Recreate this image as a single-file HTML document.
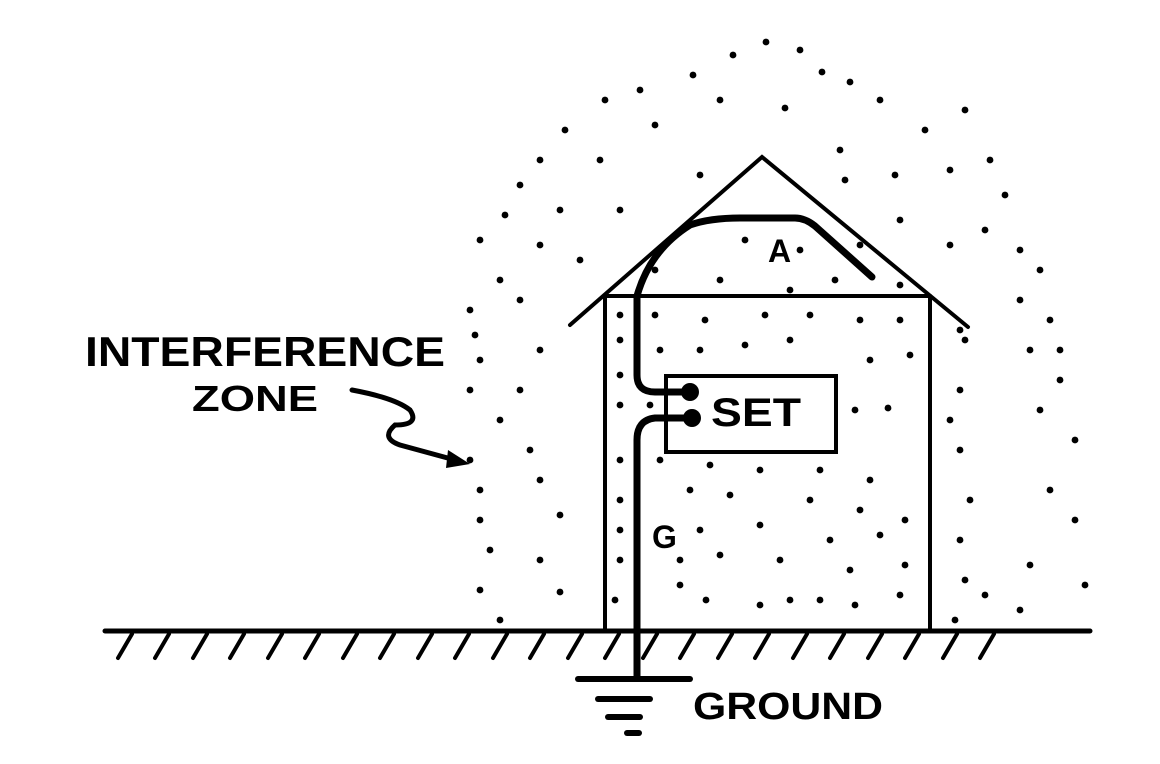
<!DOCTYPE html>
<html><head><meta charset="utf-8"><style>html,body{margin:0;padding:0;background:#fff}svg{display:block}</style></head>
<body>
<svg width="1160" height="764" viewBox="0 0 1160 764" xmlns="http://www.w3.org/2000/svg">
<defs><circle id="d" r="3.4" fill="#000"/></defs>
<g>
<use href="#d" x="766" y="42"/><use href="#d" x="733" y="55"/><use href="#d" x="800" y="50"/><use href="#d" x="693" y="75"/><use href="#d" x="822" y="72"/><use href="#d" x="850" y="82"/><use href="#d" x="640" y="90"/><use href="#d" x="880" y="100"/><use href="#d" x="605" y="100"/><use href="#d" x="720" y="100"/><use href="#d" x="785" y="108"/><use href="#d" x="565" y="130"/><use href="#d" x="655" y="125"/><use href="#d" x="925" y="130"/><use href="#d" x="540" y="160"/><use href="#d" x="600" y="160"/><use href="#d" x="840" y="150"/><use href="#d" x="965" y="110"/><use href="#d" x="520" y="185"/><use href="#d" x="700" y="175"/><use href="#d" x="845" y="180"/><use href="#d" x="895" y="175"/><use href="#d" x="950" y="170"/><use href="#d" x="990" y="160"/><use href="#d" x="505" y="215"/><use href="#d" x="560" y="210"/><use href="#d" x="620" y="210"/><use href="#d" x="900" y="220"/><use href="#d" x="985" y="230"/><use href="#d" x="1005" y="195"/><use href="#d" x="480" y="240"/><use href="#d" x="540" y="245"/><use href="#d" x="745" y="240"/><use href="#d" x="800" y="250"/><use href="#d" x="860" y="245"/><use href="#d" x="950" y="245"/><use href="#d" x="1020" y="250"/><use href="#d" x="500" y="280"/><use href="#d" x="580" y="260"/><use href="#d" x="655" y="270"/><use href="#d" x="720" y="280"/><use href="#d" x="790" y="290"/><use href="#d" x="835" y="280"/><use href="#d" x="900" y="285"/><use href="#d" x="1040" y="270"/><use href="#d" x="1020" y="300"/><use href="#d" x="470" y="310"/><use href="#d" x="520" y="300"/><use href="#d" x="475" y="335"/><use href="#d" x="620" y="315"/><use href="#d" x="655" y="315"/><use href="#d" x="705" y="320"/><use href="#d" x="765" y="315"/><use href="#d" x="810" y="315"/><use href="#d" x="860" y="320"/><use href="#d" x="900" y="320"/><use href="#d" x="960" y="330"/><use href="#d" x="1050" y="320"/><use href="#d" x="1030" y="350"/><use href="#d" x="480" y="360"/><use href="#d" x="540" y="350"/><use href="#d" x="620" y="340"/><use href="#d" x="660" y="350"/><use href="#d" x="700" y="350"/><use href="#d" x="745" y="345"/><use href="#d" x="790" y="340"/><use href="#d" x="870" y="360"/><use href="#d" x="910" y="355"/><use href="#d" x="965" y="340"/><use href="#d" x="1060" y="350"/><use href="#d" x="470" y="390"/><use href="#d" x="520" y="390"/><use href="#d" x="620" y="375"/><use href="#d" x="855" y="410"/><use href="#d" x="888" y="408"/><use href="#d" x="960" y="390"/><use href="#d" x="1060" y="380"/><use href="#d" x="500" y="420"/><use href="#d" x="620" y="405"/><use href="#d" x="650" y="405"/><use href="#d" x="950" y="420"/><use href="#d" x="1040" y="410"/><use href="#d" x="470" y="460"/><use href="#d" x="530" y="450"/><use href="#d" x="620" y="460"/><use href="#d" x="660" y="460"/><use href="#d" x="710" y="465"/><use href="#d" x="760" y="470"/><use href="#d" x="820" y="470"/><use href="#d" x="870" y="480"/><use href="#d" x="960" y="450"/><use href="#d" x="1075" y="440"/><use href="#d" x="480" y="490"/><use href="#d" x="540" y="480"/><use href="#d" x="620" y="500"/><use href="#d" x="690" y="490"/><use href="#d" x="730" y="495"/><use href="#d" x="810" y="500"/><use href="#d" x="860" y="510"/><use href="#d" x="905" y="520"/><use href="#d" x="970" y="500"/><use href="#d" x="1050" y="490"/><use href="#d" x="480" y="520"/><use href="#d" x="560" y="515"/><use href="#d" x="620" y="530"/><use href="#d" x="700" y="530"/><use href="#d" x="760" y="525"/><use href="#d" x="830" y="540"/><use href="#d" x="880" y="535"/><use href="#d" x="960" y="540"/><use href="#d" x="1075" y="520"/><use href="#d" x="490" y="550"/><use href="#d" x="540" y="560"/><use href="#d" x="620" y="560"/><use href="#d" x="680" y="560"/><use href="#d" x="720" y="555"/><use href="#d" x="780" y="560"/><use href="#d" x="850" y="570"/><use href="#d" x="905" y="565"/><use href="#d" x="965" y="580"/><use href="#d" x="1030" y="565"/><use href="#d" x="480" y="590"/><use href="#d" x="560" y="592"/><use href="#d" x="615" y="600"/><use href="#d" x="680" y="585"/><use href="#d" x="706" y="600"/><use href="#d" x="760" y="605"/><use href="#d" x="790" y="600"/><use href="#d" x="820" y="600"/><use href="#d" x="855" y="605"/><use href="#d" x="900" y="595"/><use href="#d" x="985" y="595"/><use href="#d" x="1020" y="610"/><use href="#d" x="1085" y="585"/><use href="#d" x="500" y="620"/><use href="#d" x="955" y="620"/>
</g>
<g stroke="#000" fill="none" stroke-linecap="round">
<path d="M570 325 L762 157 L968 327" stroke-width="4"/>
<line x1="605" y1="296" x2="930" y2="296" stroke-width="4"/>
<line x1="605" y1="296" x2="605" y2="631" stroke-width="4"/>
<line x1="930" y1="296" x2="930" y2="631" stroke-width="4"/>
<path d="M637 296 Q650 250 690 225 Q710 218 740 218 L795 218 Q805 218 815 226 L872 277" stroke-width="7"/>
<path d="M637 296 L637 375 Q637 392 655 392 L690 392" stroke-width="7"/>
<path d="M692 418 L655 418 Q637 420 637 440 L637 678" stroke-width="7"/>
<rect x="666" y="376" width="170" height="76" stroke-width="4"/>
<line x1="105" y1="631" x2="1090" y2="631" stroke-width="5"/>
<path stroke-width="4" d="M132 634 L118 658 M169 634 L155 658 M207 634 L193 658 M244 634 L230 658 M282 634 L268 658 M319 634 L305 658 M357 634 L343 658 M394 634 L380 658 M432 634 L418 658 M469 634 L455 658 M507 634 L493 658 M544 634 L530 658 M582 634 L568 658 M619 634 L605 658 M657 634 L643 658 M694 634 L680 658 M732 634 L718 658 M769 634 L755 658 M807 634 L793 658 M844 634 L830 658 M882 634 L868 658 M919 634 L905 658 M957 634 L943 658 M994 634 L980 658"/>
<line x1="578" y1="679" x2="690" y2="679" stroke-width="6"/>
<line x1="598" y1="699" x2="650" y2="699" stroke-width="6"/>
<line x1="608" y1="717" x2="640" y2="717" stroke-width="6"/>
<line x1="627" y1="733" x2="639" y2="733" stroke-width="6"/>
<path d="M352 390 Q395 398 410 410 Q420 425 395 425 Q380 438 400 445 L455 460" stroke-width="5"/>
</g>
<path d="M470 464 L448 450 L446 468 Z" fill="#000"/>
<circle cx="690" cy="392" r="9" fill="#000"/>
<circle cx="692" cy="418" r="9" fill="#000"/>
<g font-family="Liberation Sans, sans-serif" font-weight="bold" fill="#000">
<text x="85" y="366" font-size="42" textLength="360" lengthAdjust="spacingAndGlyphs">INTERFERENCE</text>
<text x="192" y="411" font-size="36" textLength="126" lengthAdjust="spacingAndGlyphs">ZONE</text>
<text x="711" y="426" font-size="40" textLength="90" lengthAdjust="spacingAndGlyphs">SET</text>
<text x="768" y="262" font-size="32">A</text>
<text x="652" y="548" font-size="32">G</text>
<text x="693" y="719" font-size="38" textLength="190" lengthAdjust="spacingAndGlyphs">GROUND</text>
</g>
</svg>
</body></html>
